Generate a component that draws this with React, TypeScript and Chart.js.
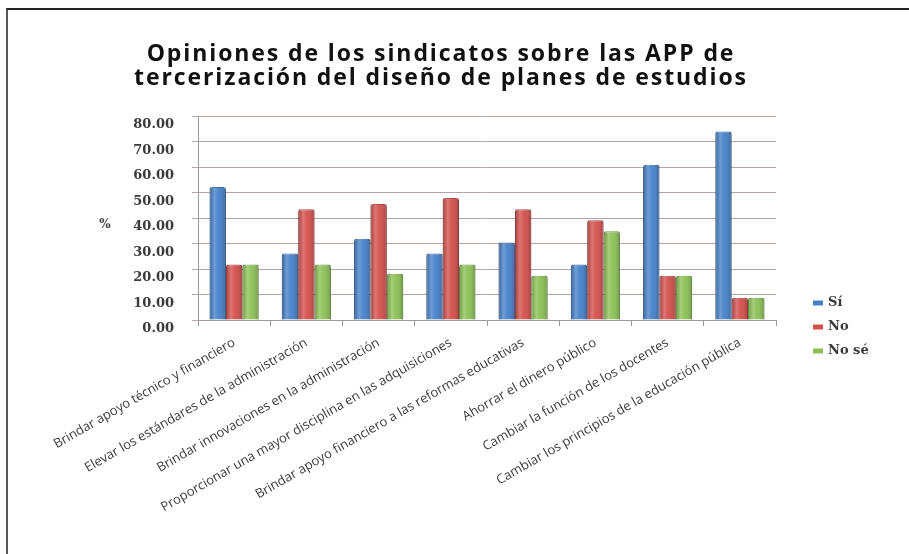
import React, { useEffect, useRef } from "react";
import { Chart, registerables } from "chart.js";

Chart.register(...registerables);

// Survey categories (x axis)
const categories = [
  "Brindar apoyo técnico y financiero",
  "Elevar los estándares de la administración",
  "Brindar innovaciones en la administración",
  "Proporcionar una mayor disciplina en las adquisiciones",
  "Brindar apoyo financiero a las reformas educativas",
  "Ahorrar el dinero público",
  "Cambiar la función de los docentes",
  "Cambiar los principios de la educación pública",
];

// Share of answers, in percent
const siValues = [52.17, 26.09, 31.82, 26.09, 30.43, 21.74, 60.87, 73.91];
const noValues = [21.74, 43.48, 45.45, 47.83, 43.48, 39.13, 17.39, 8.7];
const noSeValues = [21.74, 21.74, 18.18, 21.74, 17.39, 34.78, 17.39, 8.7];

const seriesNames = ["Sí", "No", "No sé"];
const seriesColors = ["#4680c8", "#d24f4c", "#8cc056"];
const seriesEdges = ["#2f5f9e", "#a33a38", "#6a9a3c"];

const titleLines = [
  "Opiniones de los sindicatos sobre las APP de",
  "tercerización del diseño de planes de estudios",
];
const yAxisLabel = "%";
const yMin = 0;
const yMax = 80;
const yStep = 10;

// Horizontal light/dark gradient over each bar for a rounded, cylinder-like look
const cylinderShade = {
  id: "cylinderShade",
  afterDatasetsDraw(chart: any) {
    const ctx = chart.ctx;
    chart.data.datasets.forEach((_ds: any, i: number) => {
      const meta = chart.getDatasetMeta(i);
      meta.data.forEach((bar: any) => {
        const { x, y, base, width } = bar.getProps(["x", "y", "base", "width"], true);
        const left = x - width / 2;
        const g = ctx.createLinearGradient(left, 0, left + width, 0);
        g.addColorStop(0, "rgba(0,0,0,0.20)");
        g.addColorStop(0.3, "rgba(255,255,255,0.22)");
        g.addColorStop(0.55, "rgba(255,255,255,0.05)");
        g.addColorStop(1, "rgba(0,0,0,0.22)");
        ctx.save();
        ctx.fillStyle = g;
        ctx.fillRect(left, y, width, base - y);
        ctx.restore();
      });
    });
  },
};

// Two-line heading, slightly tracked out, centred over axis + plot
const headline = {
  id: "headline",
  afterDraw(chart: any) {
    const ctx = chart.ctx;
    const area = chart.chartArea;
    const cx = (chart.scales.y.left + area.right) / 2;
    ctx.save();
    ctx.font = "bold 23px 'Open Sans'";
    (ctx as any).letterSpacing = "1.9px";
    ctx.fillStyle = "#111111";
    ctx.textAlign = "center";
    ctx.textBaseline = "alphabetic";
    titleLines.forEach((line, i) => {
      ctx.fillText(line, cx, area.top - 55 + i * 23.5);
    });
    ctx.restore();
  },
};

// Legend to the right of the plot, plus the unit label beside the value axis
const sideLabels = {
  id: "sideLabels",
  afterDraw(chart: any) {
    const ctx = chart.ctx;
    const area = chart.chartArea;
    const yScale = chart.scales.y;
    ctx.save();
    ctx.font = "bold 13px 'DejaVu Serif'";
    ctx.textBaseline = "middle";
    ctx.textAlign = "left";
    chart.data.datasets.forEach((ds: any, i: number) => {
      const cy = area.bottom - 17 + i * 24;
      const mx = area.right + 37;
      ctx.fillStyle = ds.backgroundColor;
      ctx.fillRect(mx, cy - 2.5, 10, 5);
      ctx.fillStyle = "#3a3a3a";
      ctx.fillText(ds.label, mx + 15, cy);
    });
    ctx.font = "bold 12px 'DejaVu Serif'";
    ctx.textAlign = "center";
    ctx.fillStyle = "#3a3a3a";
    ctx.fillText(yAxisLabel, area.left - 93, yScale.getPixelForValue(40) + 7);
    ctx.restore();
  },
};

export default function App() {
  const canvasRef = useRef<HTMLCanvasElement | null>(null);

  useEffect(() => {
    if (!canvasRef.current) return;
    const values = [siValues, noValues, noSeValues];
    const chart = new Chart(canvasRef.current, {
      type: "bar",
      data: {
        labels: categories,
        datasets: values.map((v, i) => ({
          label: seriesNames[i],
          data: v,
          backgroundColor: seriesColors[i],
          borderColor: seriesEdges[i],
          borderWidth: 1,
          borderRadius: { topLeft: 3, topRight: 3 },
          borderSkipped: "bottom",
          barPercentage: 1,
          categoryPercentage: 0.68,
        })),
      },
      options: {
        animation: false,
        responsive: false,
        maintainAspectRatio: false,
        layout: { padding: { left: 106, right: 133, top: 116, bottom: 0 } },
        plugins: {
          legend: { display: false },
          tooltip: { enabled: false },
          title: { display: false },
        },
        scales: {
          x: {
            grid: {
              display: true,
              drawOnChartArea: false,
              drawTicks: true,
              tickLength: 6,
              color: "#9a9a9a",
              offset: true,
            },
            border: { color: "#9a9a9a" },
            ticks: {
              autoSkip: false,
              maxRotation: 30,
              minRotation: 30,
              color: "#3a3a3a",
              font: { family: "'Open Sans'", size: 13 },
              padding: 9,
            },
            afterFit: (s: any) => {
              s.height = 234;
            },
          },
          y: {
            min: yMin,
            max: yMax,
            ticks: {
              stepSize: yStep,
              callback: (v: any) => Number(v).toFixed(2),
              color: "#3a3a3a",
              font: { family: "'DejaVu Serif'", size: 13, weight: "bold" },
              padding: 18,
              labelOffset: 9,
            },
            grid: { color: "#b9a3a3", tickLength: 6 },
            border: { color: "#9a9a9a" },
            afterFit: (s: any) => {
              s.width = 92;
            },
          },
        },
      },
      plugins: [cylinderShade, headline, sideLabels],
    });
    return () => chart.destroy();
  }, []);

  return (
    <div style={{ position: "fixed", left: 0, top: 0, width: 909, height: 554, background: "#ffffff" }}>
      <div
        style={{
          position: "absolute",
          left: 6,
          top: 8,
          right: 0,
          bottom: 0,
          borderTop: "2px solid #222222",
          borderLeft: "2px solid #555555",
        }}
      />
      <canvas ref={canvasRef} width={909} height={554} style={{ position: "absolute", left: 0, top: 0 }} />
    </div>
  );
}
